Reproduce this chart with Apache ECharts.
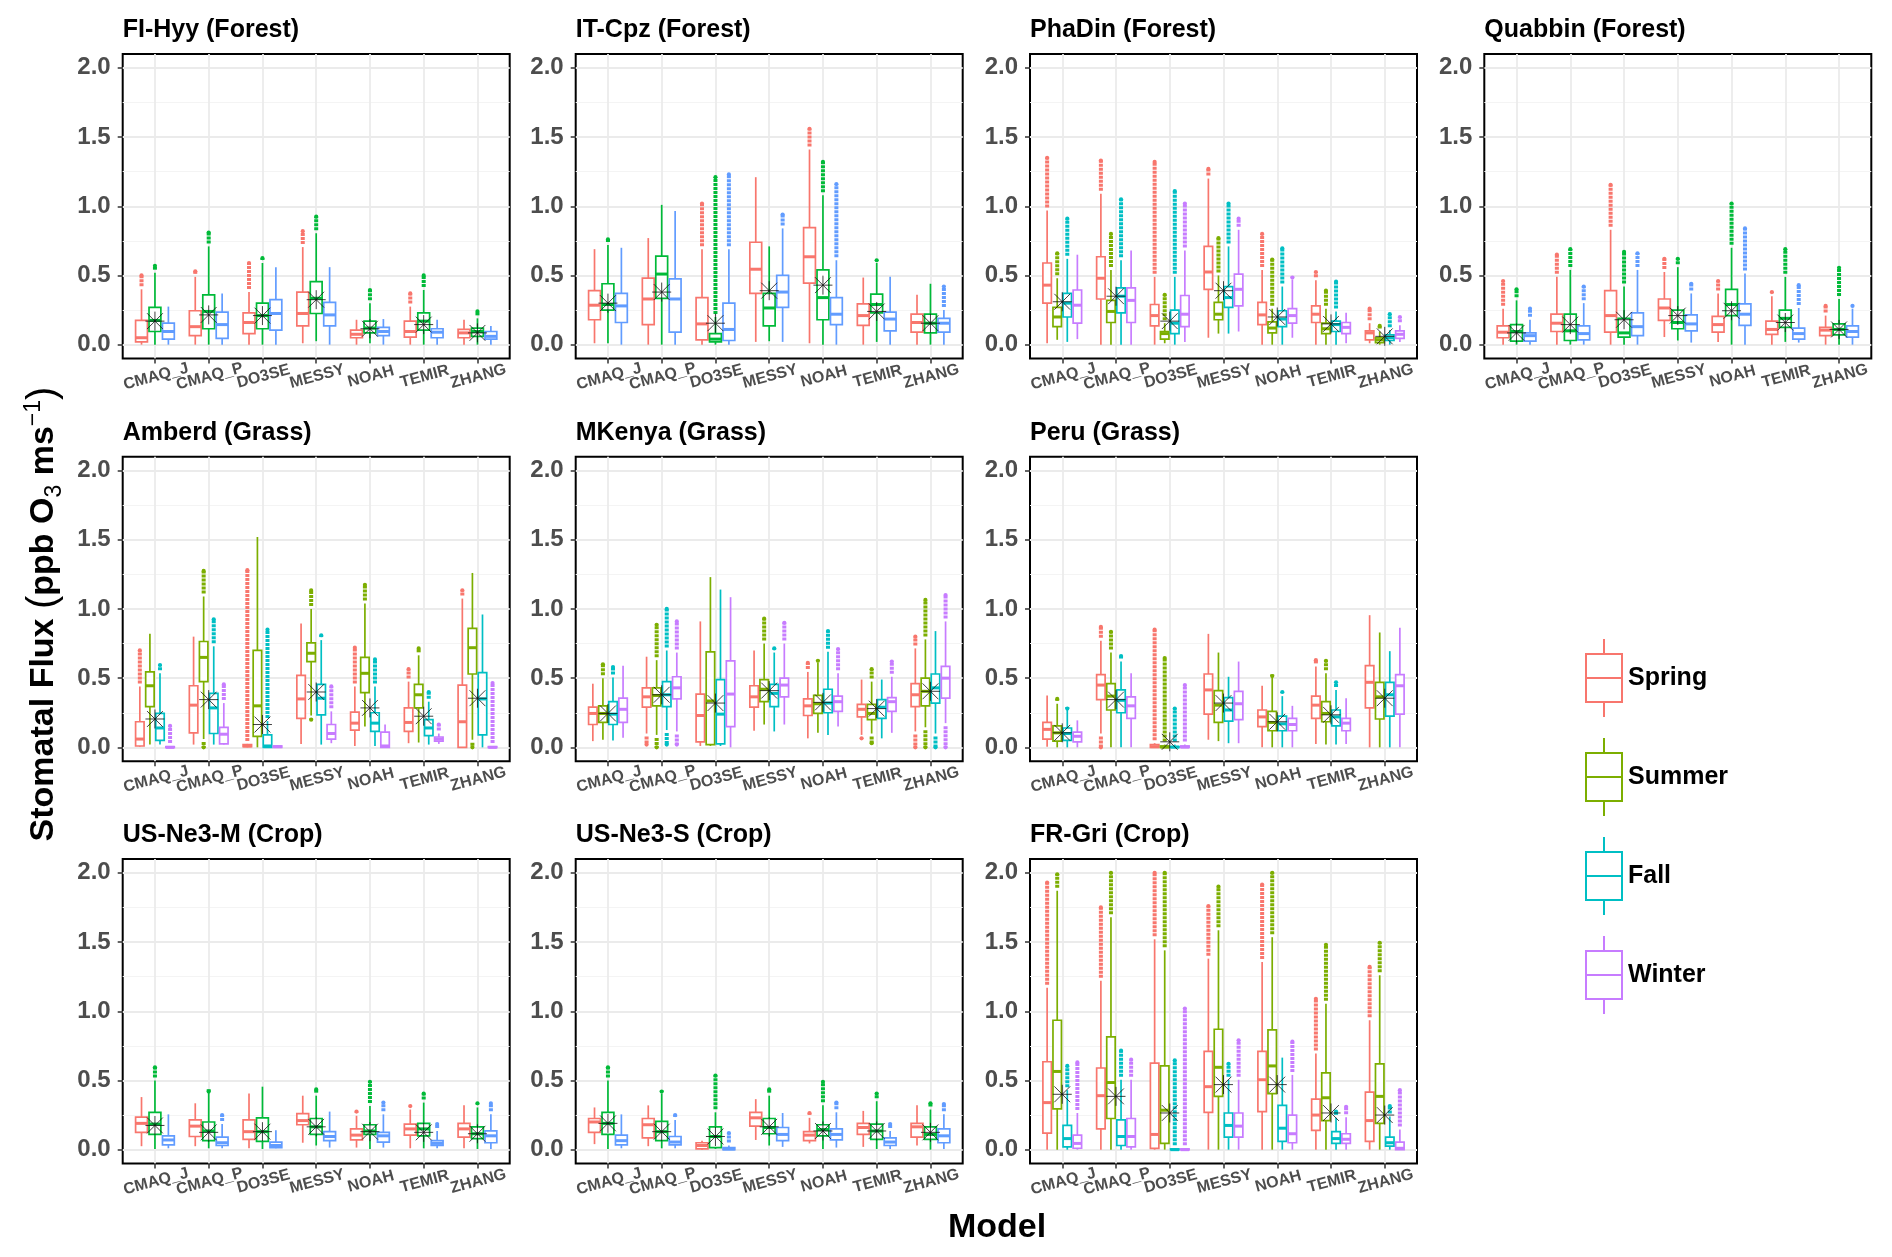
<!DOCTYPE html>
<html><head><meta charset="utf-8">
<script src="https://cdn.jsdelivr.net/npm/echarts@6/dist/echarts.min.js"></script>
<style>html,body{margin:0;padding:0;background:#fff}#chart{width:1892px;height:1257px}</style>
</head><body><div id="chart"></div>
<script>
const models = ['CMAQ_J','CMAQ_P','DO3SE','MESSY','NOAH','TEMIR','ZHANG'];
const seasons = ['Spring','Summer','Fall','Winter'];
const yTicks = [0, 0.5, 1.0, 1.5, 2.0];
const yMinorTicks = [0.25, 0.75, 1.25, 1.75];
const xTicks = [1, 2, 3, 4, 5, 6, 7];
const panelTitles = ['FI-Hyy (Forest)','IT-Cpz (Forest)','PhaDin (Forest)','Quabbin (Forest)',
  'Amberd (Grass)','MKenya (Grass)','Peru (Grass)','US-Ne3-M (Crop)','US-Ne3-S (Crop)','FR-Gri (Crop)'];

// each row (one per model): [lower whisker, Q1, median, Q3, upper whisker, highest outlier, lowest outlier]
const FIHyy_Spring = [[0,0.02,0.05,0.175,0.40,0.50,null],[0,0.065,0.13,0.245,0.49,0.53,null],[0,0.08,0.16,0.23,0.38,0.59,null],[0.01,0.135,0.225,0.38,0.705,0.82,null],[0,0.05,0.075,0.105,0.18,null,null],[0,0.055,0.095,0.17,0.275,0.37,null],[0,0.05,0.085,0.11,0.18,null,null]];
const FIHyy_Summer = [[0,0.095,0.175,0.27,0.52,0.57,null],[0,0.115,0.24,0.36,0.71,0.81,null],[0,0.115,0.21,0.30,0.59,0.625,null],[0.025,0.225,0.335,0.455,0.805,0.925,null],[0.01,0.085,0.12,0.17,0.30,0.395,null],[0,0.105,0.17,0.23,0.395,0.50,null],[0,0.06,0.095,0.12,0.19,0.24,null]];
const FIHyy_Fall = [[0,0.04,0.095,0.155,0.275,null,null],[0,0.045,0.145,0.235,0.37,null,null],[0,0.105,0.225,0.325,0.56,null,null],[0,0.135,0.215,0.305,0.56,null,null],[0,0.065,0.095,0.125,0.185,null,null],[0,0.05,0.09,0.115,0.18,null,null],[0,0.04,0.06,0.095,0.135,null,null]];
const FIHyy_Mean = [0.17,0.215,0.21,0.325,0.115,0.145,0.085];

const ITCpz_Spring = [[0.01,0.18,0.285,0.39,0.69,null,null],[0,0.145,0.33,0.48,0.77,null,null],[0,0.035,0.15,0.34,0.69,1.02,null],[0.02,0.37,0.545,0.74,1.21,null,null],[0.01,0.445,0.635,0.845,1.41,1.56,null],[0,0.14,0.21,0.295,0.485,null,null],[0,0.09,0.16,0.22,0.36,null,null]];
const ITCpz_Summer = [[0.01,0.25,0.29,0.44,0.72,0.76,null],[0,0.335,0.51,0.64,1.01,null,null],[0,0.02,0.04,0.08,0.2,1.21,null],[0.025,0.135,0.265,0.37,0.71,null,null],[0,0.18,0.34,0.54,1.08,1.32,null],[0.02,0.23,0.29,0.365,0.59,0.61,null],[0,0.085,0.155,0.22,0.44,null,null]];
const ITCpz_Fall = [[0,0.16,0.28,0.37,0.70,null,null],[0,0.09,0.33,0.475,0.965,null,null],[0,0.03,0.11,0.30,0.69,1.23,null],[0.02,0.27,0.38,0.50,0.84,0.94,null],[0,0.145,0.22,0.34,0.61,1.16,null],[0,0.10,0.185,0.235,0.49,null,null],[0,0.09,0.155,0.19,0.25,0.42,null]];
const ITCpz_Mean = [0.30,0.38,0.155,0.39,0.43,0.24,0.155];

const PhaDin_Spring = [[0.01,0.30,0.43,0.59,0.97,1.35,null],[0,0.33,0.48,0.635,1.09,1.33,null],[0,0.135,0.21,0.29,0.49,1.32,null],[0.05,0.40,0.525,0.71,1.20,1.27,null],[0,0.145,0.215,0.305,0.54,0.80,null],[0,0.16,0.22,0.28,0.465,0.525,null],[0.01,0.035,0.085,0.10,0.155,0.26,null]];
const PhaDin_Summer = [[0.035,0.13,0.20,0.27,0.48,0.66,null],[0,0.16,0.24,0.32,0.54,0.80,null],[0.01,0.04,0.08,0.095,0.155,0.36,null],[0.08,0.18,0.22,0.305,0.50,0.77,null],[0,0.085,0.12,0.165,0.26,0.615,null],[0,0.08,0.115,0.155,0.26,0.39,null],[0,0.015,0.035,0.05,0.095,0.135,null]];
const PhaDin_Fall = [[0.02,0.20,0.30,0.37,0.62,0.91,null],[0,0.23,0.35,0.41,0.61,1.05,null],[0,0.08,0.155,0.25,0.49,1.11,null],[0.08,0.27,0.34,0.42,0.71,1.02,null],[0,0.13,0.185,0.245,0.42,0.695,null],[0,0.095,0.145,0.17,0.24,0.455,null],[0,0.03,0.05,0.07,0.105,0.22,null]];
const PhaDin_Winter = [[0.04,0.155,0.285,0.395,0.65,null,null],[0,0.16,0.32,0.41,0.68,null,null],[0.02,0.13,0.22,0.355,0.68,1.02,null],[0.095,0.28,0.40,0.51,0.83,0.91,null],[0.05,0.155,0.21,0.26,0.47,0.485,null],[0.01,0.08,0.125,0.16,0.23,null,null],[0.02,0.045,0.075,0.10,0.14,0.20,null]];
const PhaDin_Mean = [0.31,0.35,0.17,0.39,0.20,0.15,0.06];

const Quabbin_Spring = [[0,0.05,0.09,0.135,0.26,0.46,null],[0,0.095,0.155,0.22,0.49,0.65,null],[0,0.09,0.21,0.39,0.83,1.155,null],[0.055,0.175,0.265,0.33,0.525,0.62,null],[0.02,0.09,0.145,0.205,0.37,0.46,null],[0,0.075,0.11,0.17,0.35,0.38,null],[0,0.065,0.105,0.125,0.21,0.28,null]];
const Quabbin_Summer = [[0,0.025,0.095,0.145,0.32,0.40,null],[0,0.03,0.10,0.22,0.54,0.69,null],[0,0.055,0.085,0.19,0.42,0.67,null],[0.03,0.115,0.16,0.25,0.56,0.62,null],[0,0.21,0.29,0.40,0.70,1.02,null],[0.02,0.125,0.19,0.25,0.49,0.69,null],[0,0.07,0.11,0.15,0.33,0.555,null]];
const Quabbin_Fall = [[0,0.025,0.065,0.085,0.18,0.26,null],[0,0.035,0.08,0.135,0.30,0.42,null],[0,0.065,0.13,0.23,0.54,0.66,null],[0.015,0.10,0.15,0.215,0.37,0.44,null],[0,0.14,0.22,0.295,0.515,0.84,null],[0.015,0.04,0.08,0.12,0.265,0.43,null],[0,0.055,0.095,0.135,0.26,0.28,null]];
const Quabbin_Mean = [0.085,0.145,0.18,0.21,0.245,0.16,0.11];

const Amberd_Spring = [[0.005,0.01,0.06,0.185,0.44,0.70,null],[0.02,0.105,0.305,0.445,0.80,null,null],[0,0.005,0.01,0.02,0.025,1.28,null],[0.025,0.21,0.35,0.52,0.895,null,null],[0.01,0.125,0.175,0.255,0.44,0.72,null],[0.03,0.115,0.18,0.285,0.475,0.565,null],[0,0,0.185,0.45,1.075,1.135,null]];
const Amberd_Summer = [[0.02,0.295,0.445,0.545,0.82,null,null],[0.06,0.475,0.65,0.765,1.09,1.275,0.0],[0,0.08,0.30,0.70,1.52,null,null],[0.23,0.62,0.68,0.755,1.00,1.135,0.20],[0.15,0.395,0.535,0.65,1.04,1.175,null],[0.035,0.285,0.38,0.455,0.665,0.715,null],[0.055,0.53,0.72,0.86,1.26,null,0.0]];
const Amberd_Fall = [[0.02,0.05,0.14,0.245,0.535,0.595,null],[0.02,0.10,0.285,0.39,0.73,0.925,null],[0,0,0.01,0.09,0.19,0.85,null],[0.02,0.235,0.355,0.455,0.775,0.81,null],[0.01,0.115,0.175,0.25,0.44,0.635,null],[0.02,0.085,0.14,0.20,0.33,0.40,null],[0,0.09,0.35,0.54,0.96,null,null]];
const Amberd_Winter = [[0,0,0,0.005,0.01,0.155,null],[0.02,0.025,0.095,0.145,0.32,0.455,null],[0,0,0.005,0.01,0.015,null,null],[0.03,0.06,0.10,0.165,0.26,0.44,null],[0,0,0.01,0.11,0.165,null,null],[0.025,0.045,0.06,0.075,0.10,0.165,null],[0,0,0,0.005,0.01,0.465,null]];
const Amberd_Mean = [0.205,0.345,0.165,0.40,0.285,0.225,0.355];

const MKenya_Spring = [[0.045,0.165,0.245,0.29,0.46,null,null],[0.10,0.29,0.365,0.43,0.655,null,0.02],[0.01,0.04,0.23,0.385,0.91,null,null],[0.12,0.29,0.365,0.445,0.70,null,null],[0.065,0.23,0.30,0.35,0.545,0.61,null],[0.09,0.22,0.275,0.31,0.49,null,0.065],[0.115,0.295,0.38,0.46,0.715,0.80,0.0]];
const MKenya_Summer = [[0.055,0.18,0.245,0.30,0.50,0.60,null],[0.09,0.30,0.375,0.43,0.63,0.885,0.0],[0.01,0.02,0.335,0.69,1.23,null,null],[0.165,0.33,0.42,0.49,0.75,0.93,null],[0.105,0.245,0.315,0.375,0.61,0.625,null],[0.10,0.20,0.245,0.31,0.475,0.565,0.03],[0.145,0.30,0.405,0.50,0.78,1.065,0.0]];
const MKenya_Fall = [[0.05,0.165,0.24,0.33,0.505,0.58,null],[0.125,0.295,0.38,0.475,0.70,1.0,0.02],[0.01,0.025,0.24,0.49,1.14,null,null],[0.115,0.295,0.39,0.455,0.685,0.715,null],[0.09,0.25,0.32,0.42,0.69,0.84,null],[0.065,0.21,0.29,0.345,0.49,null,null],[0.10,0.32,0.43,0.53,0.84,null,0.0]];
const MKenya_Winter = [[0.07,0.18,0.275,0.355,0.59,null,null],[0.115,0.35,0.43,0.51,0.685,0.91,0.02],[0,0.15,0.385,0.625,1.085,null,null],[0.165,0.365,0.45,0.50,0.75,0.90,null],[0.15,0.26,0.33,0.37,0.535,0.71,null],[0.105,0.26,0.33,0.36,0.51,0.62,null],[0.175,0.355,0.50,0.585,0.91,1.10,0.0]];
const MKenya_Mean = [0.245,0.38,0.32,0.41,0.325,0.28,0.405];

const Peru_Spring = [[0.005,0.06,0.13,0.18,0.375,null,null],[0.10,0.345,0.45,0.525,0.77,0.87,0.0],[0,0,0.005,0.02,0.03,0.85,null],[0.055,0.24,0.415,0.53,0.82,null,null],[0,0.15,0.22,0.27,0.445,null,null],[0.025,0.21,0.305,0.37,0.585,0.63,null],[0,0.285,0.47,0.59,0.955,null,null]];
const Peru_Summer = [[0,0.045,0.105,0.155,0.315,0.35,null],[0,0.27,0.37,0.46,0.685,0.835,null],[0,0,0.002,0.01,0.02,0.645,null],[0.045,0.18,0.305,0.41,0.685,null,null],[0,0.12,0.18,0.26,0.505,0.515,null],[0.02,0.185,0.245,0.33,0.535,0.625,null],[0,0.205,0.365,0.47,0.83,null,null]];
const Peru_Fall = [[0,0.05,0.10,0.14,0.27,0.28,null],[0,0.25,0.34,0.415,0.62,0.66,null],[0,0,0.002,0.005,0.02,0.28,null],[0.03,0.19,0.27,0.36,0.51,null,null],[0,0.12,0.17,0.225,0.37,0.40,null],[0.02,0.155,0.22,0.27,0.415,0.47,null],[0,0.225,0.38,0.47,0.695,null,null]];
const Peru_Winter = [[0,0.04,0.08,0.11,0.195,null,null],[0,0.21,0.30,0.365,0.535,null,null],[0,0,0.002,0.01,0.02,0.45,null],[0.03,0.20,0.315,0.405,0.62,null,null],[0,0.12,0.165,0.21,0.30,null,null],[0.025,0.12,0.175,0.21,0.355,null,null],[0,0.24,0.445,0.525,0.865,null,null]];
const Peru_Mean = [0.105,0.345,0.04,0.32,0.185,0.235,0.355];

const USNe3M_Spring = [[0.025,0.125,0.19,0.235,0.38,null,null],[0.025,0.095,0.17,0.215,0.335,null,null],[0.01,0.075,0.13,0.215,0.405,null,null],[0.05,0.18,0.21,0.26,0.39,null,null],[0.015,0.07,0.105,0.15,0.245,0.275,null],[0.01,0.105,0.15,0.185,0.29,0.315,null],[0.01,0.09,0.15,0.19,0.32,null,null]];
const USNe3M_Summer = [[0.005,0.11,0.185,0.27,0.50,0.595,null],[0.01,0.065,0.135,0.20,0.415,0.42,null],[0.005,0.06,0.13,0.23,0.455,null,null],[0.03,0.11,0.165,0.225,0.39,0.435,null],[0.005,0.11,0.135,0.18,0.315,0.49,null],[0.01,0.10,0.15,0.19,0.34,0.405,null],[0.005,0.08,0.115,0.165,0.305,0.335,null]];
const USNe3M_Fall = [[0.01,0.035,0.07,0.10,0.255,null,null],[0.01,0.03,0.05,0.09,0.185,0.25,null],[0.01,0.015,0.03,0.055,0.14,null,null],[0.015,0.065,0.095,0.13,0.275,null,null],[0.015,0.055,0.10,0.125,0.255,0.34,null],[0.01,0.03,0.045,0.065,0.135,0.185,null],[0.005,0.05,0.10,0.135,0.255,0.335,null]];
const USNe3M_Mean = [0.175,0.125,0.13,0.165,0.13,0.125,0.115];

const USNe3S_Spring = [[0.04,0.125,0.20,0.225,0.305,null,null],[0.025,0.085,0.18,0.225,0.32,null,null],[0,0.005,0.03,0.05,0.065,null,null],[0.07,0.17,0.23,0.27,0.365,null,null],[0.045,0.065,0.105,0.13,0.23,0.265,null],[0.02,0.11,0.16,0.19,0.28,null,null],[0.03,0.09,0.165,0.19,0.32,null,null]];
const USNe3S_Summer = [[0.005,0.11,0.19,0.27,0.50,0.595,null],[0.01,0.065,0.13,0.205,0.405,0.42,null],[0.005,0.015,0.095,0.165,0.27,0.535,null],[0.03,0.115,0.16,0.225,0.39,0.435,null],[0.005,0.10,0.145,0.18,0.32,0.49,null],[0.005,0.075,0.135,0.185,0.35,0.405,null],[0,0.075,0.11,0.165,0.29,0.335,null]];
const USNe3S_Fall = [[0.01,0.035,0.065,0.105,0.255,null,null],[0.01,0.035,0.055,0.095,0.215,0.25,null],[0,0,0.005,0.015,0.03,0.12,null],[0.02,0.065,0.11,0.16,0.265,null,null],[0.015,0.07,0.11,0.15,0.27,0.34,null],[0.005,0.03,0.055,0.085,0.135,0.185,null],[0.005,0.05,0.10,0.15,0.255,0.33,null]];
const USNe3S_Mean = [0.19,0.13,0.095,0.165,0.135,0.135,0.125];

const FRGri_Spring = [[0,0.12,0.34,0.635,1.17,1.93,null],[0,0.15,0.39,0.59,1.22,1.75,null],[0,0.01,0.11,0.625,1.52,2.0,null],[0,0.27,0.455,0.71,1.38,1.76,null],[0,0.275,0.505,0.71,1.355,1.915,null],[0,0.14,0.25,0.365,0.695,1.09,null],[0,0.06,0.21,0.415,0.935,1.32,null]];
const FRGri_Summer = [[0,0.295,0.565,0.935,1.87,1.99,null],[0,0.225,0.485,0.815,1.68,2.0,null],[0,0.045,0.285,0.605,1.44,2.0,null],[0,0.385,0.595,0.87,1.585,1.90,null],[0,0.405,0.605,0.865,1.535,2.0,null],[0,0.21,0.375,0.555,1.055,1.48,null],[0,0.19,0.385,0.62,1.26,1.495,null]];
const FRGri_Fall = [[0,0.02,0.08,0.175,0.43,0.605,null],[0,0.03,0.095,0.215,0.505,0.715,null],[0,0,0,0.005,0.01,0.645,null],[0,0.09,0.175,0.265,0.505,0.62,null],[0,0.06,0.155,0.32,0.665,null,null],[0,0.045,0.08,0.13,0.23,0.275,null],[0,0.025,0.05,0.09,0.24,0.315,null]];
const FRGri_Winter = [[0,0.01,0.045,0.105,0.265,0.63,null],[0,0.02,0.095,0.225,0.505,0.65,null],[0,0,0,0.005,0.01,1.02,null],[0,0.09,0.17,0.265,0.505,0.79,null],[0,0.05,0.115,0.25,0.54,0.78,null],[0,0.045,0.075,0.115,0.235,0.31,null],[0,0,0.01,0.055,0.145,0.43,null]];
const FRGri_Mean = [0.40,0.385,0.265,0.47,0.47,0.265,0.25];

const panelBoxes = [
  [FIHyy_Spring, FIHyy_Summer, FIHyy_Fall],
  [ITCpz_Spring, ITCpz_Summer, ITCpz_Fall],
  [PhaDin_Spring, PhaDin_Summer, PhaDin_Fall, PhaDin_Winter],
  [Quabbin_Spring, Quabbin_Summer, Quabbin_Fall],
  [Amberd_Spring, Amberd_Summer, Amberd_Fall, Amberd_Winter],
  [MKenya_Spring, MKenya_Summer, MKenya_Fall, MKenya_Winter],
  [Peru_Spring, Peru_Summer, Peru_Fall, Peru_Winter],
  [USNe3M_Spring, USNe3M_Summer, USNe3M_Fall],
  [USNe3S_Spring, USNe3S_Summer, USNe3S_Fall],
  [FRGri_Spring, FRGri_Summer, FRGri_Fall, FRGri_Winter]
];
const panelMeans = [FIHyy_Mean, ITCpz_Mean, PhaDin_Mean, Quabbin_Mean, Amberd_Mean, MKenya_Mean, Peru_Mean, USNe3M_Mean, USNe3S_Mean, FRGri_Mean];

// ---------- layout & style ----------
const pal3 = ['#F8766D', '#00BA38', '#619CFF'];
const pal4 = ['#F8766D', '#7CAE00', '#00BFC4', '#C77CFF'];
const colLeft = [122.7, 575.7, 1030, 1484.3];
const rowTop = [54, 456.7, 859];
const panelW = 387, panelH = 304.5;
const panelPos = [[0,0],[0,1],[0,2],[0,3],[1,0],[1,1],[1,2],[2,0],[2,1],[2,2]];
const FONT = "'Liberation Sans', Arial, Helvetica, sans-serif";
const Y_MIN = -0.1, Y_MAX = 2.1;

function boxRenderer(sIdx, nS, color) {
  return function (params, api) {
    const bw = 0.75 / nS;
    const cx = api.value(0) + (sIdx - (nS - 1) / 2) * bw;
    const pw = api.size([bw, 0])[0];
    const half = pw / 2 - 0.8;
    const px = api.coord([cx, 0])[0];
    const y = (k) => api.coord([cx, api.value(k)])[1];
    const yLo = y(1), yQ1 = y(2), yMed = y(3), yQ3 = y(4), yHi = y(5);
    const kids = [];
    const oh = api.value(6), ol = api.value(7);
    if (!isNaN(oh)) {
      const yo = y(6);
      kids.push({ type: 'line', shape: { x1: px, y1: yHi - 3, x2: px, y2: yo }, style: { stroke: color, lineWidth: 4, lineDash: [3, 1] } });
      kids.push({ type: 'circle', shape: { cx: px, cy: yo, r: 2.1 }, style: { fill: color } });
    }
    if (!isNaN(ol)) {
      const yo = y(7);
      kids.push({ type: 'line', shape: { x1: px, y1: yLo + 3, x2: px, y2: yo }, style: { stroke: color, lineWidth: 4, lineDash: [3, 1] } });
      kids.push({ type: 'circle', shape: { cx: px, cy: yo, r: 2.1 }, style: { fill: color } });
    }
    kids.push({ type: 'line', shape: { x1: px, y1: yLo, x2: px, y2: yHi }, style: { stroke: color, lineWidth: 1.7 } });
    kids.push({ type: 'rect', shape: { x: px - half, y: yQ3, width: half * 2, height: Math.max(yQ1 - yQ3, 0.8) }, style: { fill: '#fff', stroke: color, lineWidth: 1.7 } });
    kids.push({ type: 'line', shape: { x1: px - half, y1: yMed, x2: px + half, y2: yMed }, style: { stroke: color, lineWidth: 3 } });
    return { type: 'group', children: kids };
  };
}

// model names written under each x tick (rotated like the original)
function tickLabelRenderer(params, api) {
  const pt = api.coord([api.value(0), Y_MIN]);
  return { type: 'text', x: pt[0] + 1, y: pt[1] + 18, rotation: 15 * Math.PI / 180,
    style: { text: models[params.dataIndex], align: 'center', verticalAlign: 'middle',
      fontSize: 16, fontWeight: 'bold', fill: '#4D4D4D', fontFamily: FONT } };
}

const grids = [], xAxes = [], yAxes = [], series = [], graphics = [];
panelPos.forEach(([r, c], p) => {
  grids.push({ left: colLeft[c], top: rowTop[r], width: panelW, height: panelH, show: true,
    backgroundColor: '#fff', borderColor: '#000', borderWidth: 2, containLabel: false, outerBoundsMode: 'none' });
  xAxes.push({ gridIndex: p, type: 'value', min: 0.4, max: 7.6,
    axisLine: { show: false, onZero: false },
    axisTick: { show: true, length: 5, customValues: xTicks, lineStyle: { color: '#333', width: 1.5 } },
    axisLabel: { show: false, customValues: xTicks },
    splitLine: { show: true, lineStyle: { color: '#EBEBEB', width: 1.8 } } });
  // minor grid (index 2p) then major (2p+1)
  yAxes.push({ gridIndex: p, type: 'value', min: Y_MIN, max: Y_MAX, position: 'left',
    axisLine: { show: false, onZero: false }, axisLabel: { show: false },
    axisTick: { show: false, customValues: yMinorTicks },
    splitLine: { show: true, lineStyle: { color: '#F4F4F4', width: 1 } } });
  yAxes.push({ gridIndex: p, type: 'value', min: Y_MIN, max: Y_MAX, position: 'left',
    axisLine: { show: false, onZero: false },
    axisTick: { show: true, length: 5, customValues: yTicks, lineStyle: { color: '#333', width: 1.5 } },
    axisLabel: { customValues: yTicks, interval: 0, formatter: (v) => v.toFixed(1), margin: 12, fontSize: 24, fontWeight: 'bold', color: '#4D4D4D', fontFamily: FONT,
      showMinLabel: true, showMaxLabel: true },
    splitLine: { show: true, lineStyle: { color: '#EBEBEB', width: 1.8 } } });

  const boxes = panelBoxes[p];
  const nS = boxes.length;
  const pal = nS === 3 ? pal3 : pal4;
  boxes.forEach((arr, s) => {
    series.push({ type: 'custom', name: seasons[s], xAxisIndex: p, yAxisIndex: 2 * p + 1, clip: false, silent: true,
      renderItem: boxRenderer(s, nS, pal[s]),
      encode: { x: 0, y: [1, 2, 3, 4, 5] },
      data: arr.map((b, i) => [i + 1].concat(b.map(v => v === null ? '-' : v))) });
  });
  series.push({ type: 'scatter', name: 'mean', xAxisIndex: p, yAxisIndex: 2 * p + 1, silent: true, z: 5,
    symbol: 'path://M0,0L20,20M20,0L0,20M10,-2L10,22M-2,10L22,10', symbolSize: 19,
    itemStyle: { color: 'rgba(0,0,0,0)', borderColor: '#111', borderWidth: 1 },
    data: panelMeans[p].map((m, i) => [i + 1, m]) });
  series.push({ type: 'custom', name: 'xlabels', xAxisIndex: p, yAxisIndex: 2 * p + 1, silent: true, clip: false, z: 6,
    renderItem: tickLabelRenderer, encode: { x: 0, y: 1 },
    data: xTicks.map(t => [t, Y_MIN]) });

  graphics.push({ type: 'text', x: colLeft[c], y: rowTop[r] - 24,
    style: { text: panelTitles[p], fontSize: 25, fontWeight: 'bold', fontFamily: FONT, fill: '#000', align: 'left', verticalAlign: 'middle' } });
});

graphics.push({ type: 'text', x: 44, y: 614, rotation: Math.PI / 2,
  style: { text: '{t|Stomatal Flux }{p|(}{t|ppb O}{sub|3}{t| ms}{sup|\u22121}{p|)}', align: 'center', verticalAlign: 'middle',
    fontFamily: FONT, fill: '#000',
    rich: {
      t: { fontSize: 34, fontWeight: 'bold', fontFamily: FONT, lineHeight: 44, verticalAlign: 'middle' },
      p: { fontSize: 40, fontWeight: 'normal', fontFamily: FONT, lineHeight: 44, verticalAlign: 'middle' },
      sub: { fontSize: 23, fontWeight: 'normal', fontFamily: FONT, lineHeight: 24, verticalAlign: 'bottom' },
      sup: { fontSize: 23, fontWeight: 'normal', fontFamily: FONT, lineHeight: 24, verticalAlign: 'top' }
    } } });
graphics.push({ type: 'text', x: 997, y: 1228,
  style: { text: 'Model', fontSize: 34, fontWeight: 'bold', fontFamily: FONT, fill: '#000', align: 'center', verticalAlign: 'middle' } });

const boxIcon = 'path://M0,14H38V16H0Z M0,62H38V64H0Z M0,14H2V64H0Z M36,14H38V64H36Z M0,38H38V40H0Z M18,0H20V14H18Z M18,64H20V78H18Z';

const option = {
  backgroundColor: '#fff',
  animation: false,
  textStyle: { fontFamily: FONT },
  grid: grids, xAxis: xAxes, yAxis: yAxes, series: series, graphic: graphics,
  legend: { orient: 'vertical', left: 1585, top: 639, padding: 0, itemWidth: 38, itemHeight: 78, itemGap: 21,
    textStyle: { fontSize: 25, fontWeight: 'bold', color: '#000', fontFamily: FONT },
    data: seasons.map((s, i) => ({ name: s, icon: boxIcon, itemStyle: { color: pal4[i], borderWidth: 0 } })) }
};
const chart = echarts.init(document.getElementById('chart'), null, { renderer: 'canvas' });
chart.setOption(option);
</script></body></html>
